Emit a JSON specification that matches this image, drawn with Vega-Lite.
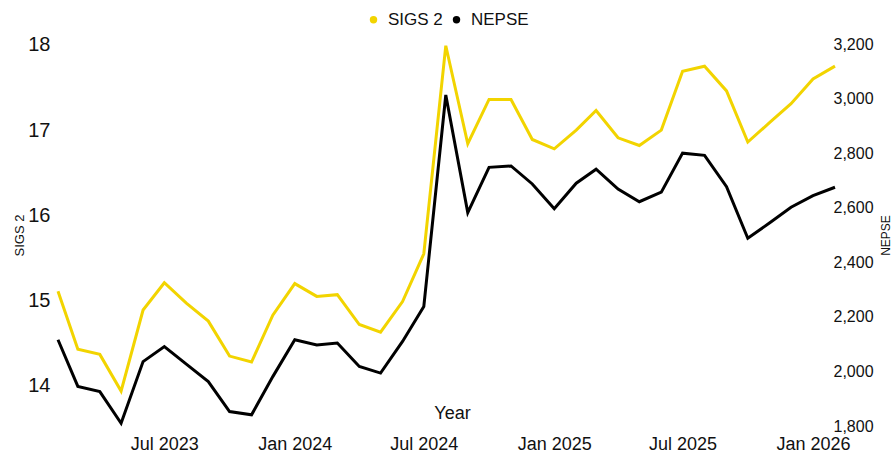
{
  "$schema": "https://vega.github.io/schema/vega-lite/v6.json",
  "width": 777,
  "height": 382,
  "autosize": "none",
  "padding": {"left": 58, "top": 44, "right": 59, "bottom": 31},
  "background": "white",
  "config": {
    "view": {"stroke": null},
    "font": "Liberation Sans",
    "axis": {"grid": false, "domain": false, "ticks": false, "labelColor": "#111", "titleColor": "#111", "labelFont": "Liberation Sans", "titleFont": "Liberation Sans", "titleFontWeight": "normal"}
  },
  "data": {
    "values": [
      {"date": "2023-02-01", "sigs2": 15.11, "nepse": 2116},
      {"date": "2023-03-01", "sigs2": 14.43, "nepse": 1945},
      {"date": "2023-04-01", "sigs2": 14.37, "nepse": 1926},
      {"date": "2023-05-01", "sigs2": 13.94, "nepse": 1810},
      {"date": "2023-06-01", "sigs2": 14.89, "nepse": 2036},
      {"date": "2023-07-01", "sigs2": 15.21, "nepse": 2091},
      {"date": "2023-08-01", "sigs2": 14.97, "nepse": 2027},
      {"date": "2023-09-01", "sigs2": 14.76, "nepse": 1963},
      {"date": "2023-10-01", "sigs2": 14.35, "nepse": 1853},
      {"date": "2023-11-01", "sigs2": 14.28, "nepse": 1841},
      {"date": "2023-12-01", "sigs2": 14.83, "nepse": 1981},
      {"date": "2024-01-01", "sigs2": 15.20, "nepse": 2116},
      {"date": "2024-02-01", "sigs2": 15.05, "nepse": 2097},
      {"date": "2024-03-01", "sigs2": 15.07, "nepse": 2104},
      {"date": "2024-04-01", "sigs2": 14.72, "nepse": 2018},
      {"date": "2024-05-01", "sigs2": 14.63, "nepse": 1994},
      {"date": "2024-06-01", "sigs2": 14.99, "nepse": 2110},
      {"date": "2024-07-01", "sigs2": 15.55, "nepse": 2238},
      {"date": "2024-08-01", "sigs2": 17.99, "nepse": 3013},
      {"date": "2024-09-01", "sigs2": 16.84, "nepse": 2582},
      {"date": "2024-10-01", "sigs2": 17.36, "nepse": 2748},
      {"date": "2024-11-01", "sigs2": 17.36, "nepse": 2753},
      {"date": "2024-12-01", "sigs2": 16.89, "nepse": 2687},
      {"date": "2025-01-01", "sigs2": 16.78, "nepse": 2596},
      {"date": "2025-02-01", "sigs2": 17.00, "nepse": 2690},
      {"date": "2025-03-01", "sigs2": 17.23, "nepse": 2741},
      {"date": "2025-04-01", "sigs2": 16.91, "nepse": 2668},
      {"date": "2025-05-01", "sigs2": 16.82, "nepse": 2622},
      {"date": "2025-06-01", "sigs2": 17.00, "nepse": 2657},
      {"date": "2025-07-01", "sigs2": 17.69, "nepse": 2800},
      {"date": "2025-08-01", "sigs2": 17.75, "nepse": 2792},
      {"date": "2025-09-01", "sigs2": 17.46, "nepse": 2677},
      {"date": "2025-10-01", "sigs2": 16.86, "nepse": 2488},
      {"date": "2025-11-01", "sigs2": 17.09, "nepse": 2545},
      {"date": "2025-12-01", "sigs2": 17.31, "nepse": 2602},
      {"date": "2026-01-01", "sigs2": 17.60, "nepse": 2644},
      {"date": "2026-02-01", "sigs2": 17.75, "nepse": 2675}
    ]
  },
  "encoding": {
    "x": {
      "field": "date",
      "type": "temporal",
      "scale": {
        "type": "utc",
        "domain": [
          {"year": 2023, "month": 2, "date": 1, "utc": true},
          {"year": 2026, "month": 2, "date": 1, "utc": true}
        ]
      },
      "axis": {
        "title": "Year",
        "titleFontSize": 18,
        "titleX": 394,
        "titleY": -13,
        "titleBaseline": "middle",
        "labelFontSize": 18,
        "labelPadding": 9,
        "format": "%b %Y",
        "values": [
          {"year": 2023, "month": 7, "date": 1, "utc": true},
          {"year": 2024, "month": 1, "date": 1, "utc": true},
          {"year": 2024, "month": 7, "date": 1, "utc": true},
          {"year": 2025, "month": 1, "date": 1, "utc": true},
          {"year": 2025, "month": 7, "date": 1, "utc": true},
          {"year": 2026, "month": 1, "date": 1, "utc": true}
        ]
      }
    }
  },
  "layer": [
    {
      "mark": {"type": "line", "strokeWidth": 3, "clip": false},
      "encoding": {
        "y": {
          "field": "sigs2",
          "type": "quantitative",
          "scale": {"domain": [13.53, 18.01], "nice": false, "zero": false},
          "axis": {"title": "SIGS 2", "titleFontSize": 13, "labelFontSize": 20, "labelPadding": 8, "titlePadding": 1, "values": [14, 15, 16, 17, 18], "orient": "left"}
        },
        "color": {
          "datum": "SIGS 2",
          "type": "nominal",
          "scale": {"domain": ["SIGS 2", "NEPSE"], "range": ["#F2D400", "#000000"]},
          "legend": {
            "title": null,
            "orient": "none",
            "direction": "horizontal",
            "legendX": 307,
            "legendY": -33,
            "symbolType": "circle",
            "symbolSize": 55,
            "symbolStrokeWidth": 0,
            "labelFontSize": 17,
            "labelFont": "Liberation Sans",
            "labelColor": "#111",
            "labelOffset": 6,
            "columnPadding": 5,
            "padding": 0,
            "encode": {
              "symbols": {"update": {"fill": {"scale": "color", "field": "value"}, "fillOpacity": {"value": 1}}}
            }
          }
        }
      }
    },
    {
      "mark": {"type": "line", "strokeWidth": 3, "clip": false},
      "encoding": {
        "y": {
          "field": "nepse",
          "type": "quantitative",
          "scale": {"domain": [1800, 3200], "nice": false, "zero": false},
          "axis": {"title": "NEPSE", "titleFontSize": 12, "titleAngle": 270, "labelFontSize": 16, "labelPadding": 3, "offset": -5, "titlePadding": 19, "values": [1800, 2000, 2200, 2400, 2600, 2800, 3000, 3200], "format": ",d", "orient": "right"}
        },
        "color": {"datum": "NEPSE", "type": "nominal"}
      }
    }
  ],
  "resolve": {"scale": {"y": "independent"}}
}
